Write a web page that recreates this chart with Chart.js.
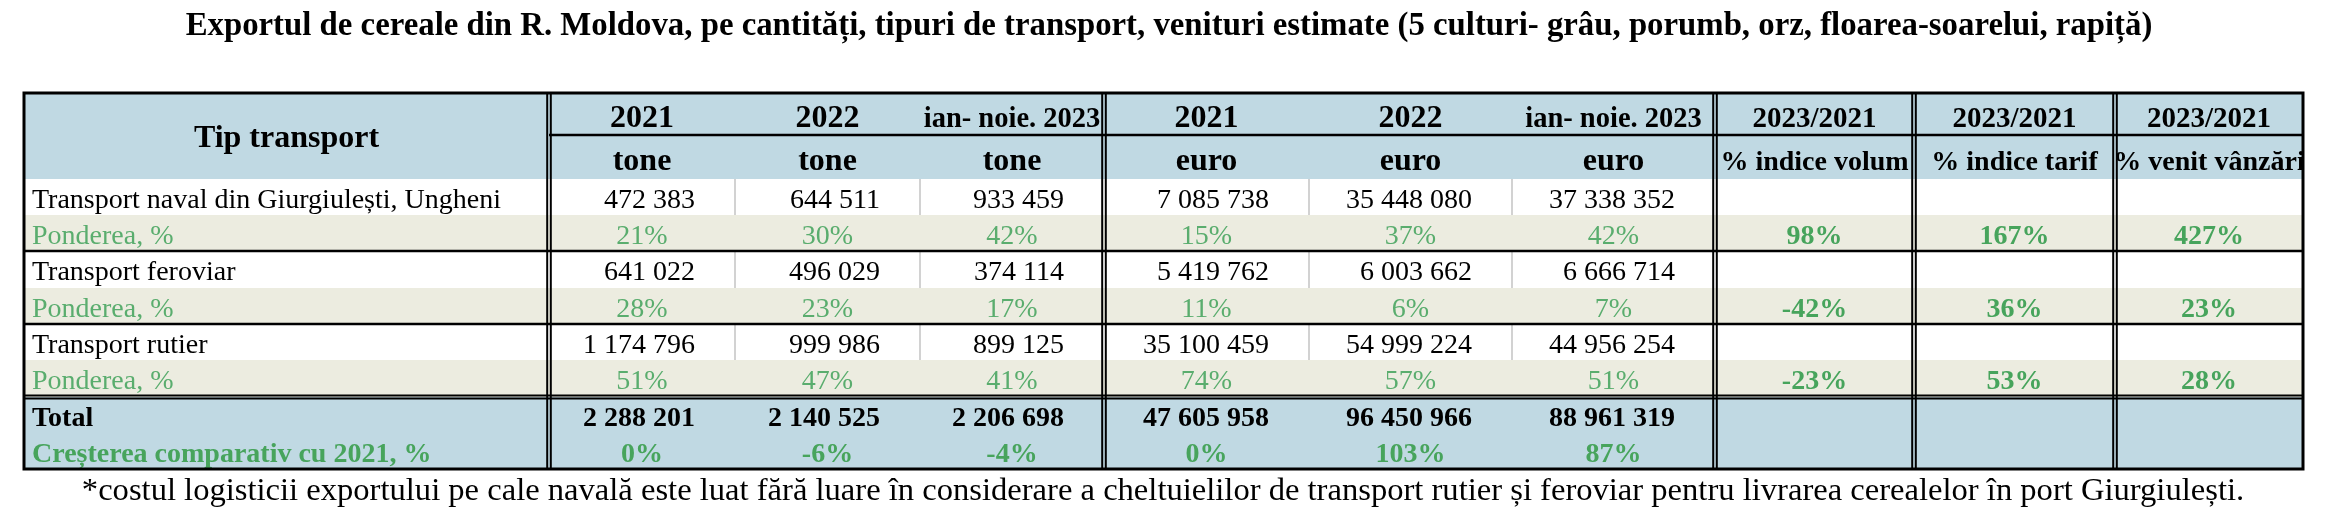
<!DOCTYPE html>
<html>
<head>
<meta charset="utf-8">
<script src="https://cdn.jsdelivr.net/npm/chart.js@4.4.0/dist/chart.umd.min.js"></script>
<style>
  html, body { margin: 0; padding: 0; background: #ffffff; overflow: hidden; }
  canvas { display: block; }
</style>
</head>
<body>
<canvas id="canvas1" width="2328" height="524"></canvas>
<script>
var title = 'Exportul de cereale din R. Moldova, pe cantități, tipuri de transport, venituri estimate (5 culturi- grâu, porumb, orz, floarea-soarelui, rapiță)';
var footnote = '*costul logisticii exportului pe cale navală este luat fără luare în considerare a cheltuielilor de transport rutier și feroviar pentru livrarea cerealelor în port Giurgiulești.';

var firstHeader = 'Tip transport';
var periods = ['2021', '2022', 'ian- noie. 2023'];
var units = ['tone', 'euro'];
var indexHeader = '2023/2021';
var indexLabels = ['% indice volum', '% indice tarif', '% venit vânzări'];

var transportTypes = ['Transport naval din Giurgiulești, Ungheni', 'Transport feroviar', 'Transport rutier'];
var shareLabel = 'Ponderea, %';

// tone, per transport type: 2021, 2022, ian-noie 2023
var tone = [
	[472383, 644511, 933459],
	[641022, 496029, 374114],
	[1174796, 999986, 899125]
];
var toneShare = [
	[21, 30, 42],
	[28, 23, 17],
	[51, 47, 41]
];
// euro
var euro = [
	[7085738, 35448080, 37338352],
	[5419762, 6003662, 6666714],
	[35100459, 54999224, 44956254]
];
var euroShare = [
	[15, 37, 42],
	[11, 6, 7],
	[74, 57, 51]
];
// volum, tarif, venit (2023/2021)
var indexValues = [
	[98, 167, 427],
	[-42, 36, 23],
	[-23, 53, 28]
];

var totalLabel = 'Total';
var growthLabel = 'Creșterea comparativ cu 2021, %';
var totalTone = [2288201, 2140525, 2206698];
var totalEuro = [47605958, 96450966, 88961319];
var growthTone = [0, -6, -4];
var growthEuro = [0, 103, 87];

// table layout (scale units)
var colEdges = [24, 549, 735, 920, 1104, 1309, 1512, 1715, 1914, 2115, 2303];
var rowEdges = [93, 135, 179, 215, 251, 288, 324, 360, 397, 433, 469];

var FONT = '"Liberation Serif", "Times New Roman", serif';
var BLUE = '#c0d9e3';
var GREY = '#ecece0';
var GREEN = '#5aad6e';
var GREEN_B = '#47a45c';

function fmt(n) {
	return String(n).replace(/\B(?=(\d{3})+(?!\d))/g, ' ');
}
function pct(n) {
	return n + '%';
}

var tablePlugin = {
	id: 'table',
	afterDraw: function(chart) {
		var ctx = chart.ctx;
		var xs = chart.scales.x, ys = chart.scales.y;
		var X = function(v) { return xs.getPixelForValue(v); };
		var Y = function(v) { return ys.getPixelForValue(v); };

		function fillCell(c0, c1, r0, r1, color) {
			ctx.fillStyle = color;
			ctx.fillRect(X(colEdges[c0]), Y(rowEdges[r0]), X(colEdges[c1]) - X(colEdges[c0]), Y(rowEdges[r1]) - Y(rowEdges[r0]));
		}
		function text(str, col, row, align, font, color, off) {
			var l = X(colEdges[col]), r = X(colEdges[col + 1]);
			var x = align === 'right' ? r - 40 : align === 'left' ? l + 8 : (l + r) / 2;
			ctx.save();
			ctx.beginPath();
			ctx.rect(l, Y(rowEdges[row]), r - l, Y(rowEdges[row + 1]) - Y(rowEdges[row]));
			ctx.clip();
			ctx.font = font;
			ctx.fillStyle = color;
			ctx.textAlign = align;
			ctx.textBaseline = 'alphabetic';
			ctx.fillText(str, x, Y(rowEdges[row]) + off);
			ctx.restore();
		}
		function hline(y, c0, c1, w, color) {
			ctx.strokeStyle = color;
			ctx.lineWidth = w;
			ctx.beginPath();
			ctx.moveTo(X(colEdges[c0]), Y(y));
			ctx.lineTo(X(colEdges[c1]), Y(y));
			ctx.stroke();
		}
		function vline(x, r0, r1, w, color) {
			ctx.strokeStyle = color;
			ctx.lineWidth = w;
			ctx.beginPath();
			ctx.moveTo(X(x), Y(rowEdges[r0]));
			ctx.lineTo(X(x), Y(rowEdges[r1]));
			ctx.stroke();
		}

		ctx.save();
		// backgrounds
		fillCell(0, 10, 0, 2, BLUE);
		for (var t = 0; t < 3; t++) {
			fillCell(0, 10, 2 + t * 2, 3 + t * 2, '#ffffff');
			fillCell(0, 10, 3 + t * 2, 4 + t * 2, GREY);
		}
		fillCell(0, 10, 8, 10, BLUE);

		// light separators inside groups, white rows only
		[2, 4, 6].forEach(function(r) {
			[2, 3, 5, 6].forEach(function(c) {
				ctx.strokeStyle = '#d2d2d2';
				ctx.lineWidth = 2;
				ctx.beginPath();
				ctx.moveTo(X(colEdges[c]), Y(rowEdges[r]));
				ctx.lineTo(X(colEdges[c]), Y(rowEdges[r + 1]));
				ctx.stroke();
			});
		});

		// title & footnote
		ctx.fillStyle = '#000000';
		ctx.textAlign = 'center';
		ctx.textBaseline = 'alphabetic';
		ctx.font = 'bold 32.8px ' + FONT;
		ctx.fillText(title, X(1169), Y(35));
		ctx.font = '32.6px ' + FONT;
		ctx.fillText(footnote, X(1163), Y(500));

		// header
		var hb = 'bold 32px ' + FONT, hs = 'bold 28.5px ' + FONT, hi = 'bold 29px ' + FONT;
		ctx.font = hb;
		ctx.fillStyle = '#000000';
		ctx.textAlign = 'center';
		ctx.fillText(firstHeader, (X(colEdges[0]) + X(colEdges[1])) / 2, Y(147));
		for (var g = 0; g < 2; g++) {
			for (var p = 0; p < 3; p++) {
				var col = 1 + g * 3 + p;
				text(periods[p], col, 0, 'center', p === 2 ? hs : hb, '#000000', 34);
				text(units[g], col, 1, 'center', hb, '#000000', 35);
			}
		}
		for (var k = 0; k < 3; k++) {
			text(indexHeader, 7 + k, 0, 'center', hi, '#000000', 34);
			text(indexLabels[k], 7 + k, 1, 'center', 'bold 28px ' + FONT, '#000000', 35);
		}

		// body
		var reg = '28px ' + FONT, bold = 'bold 28px ' + FONT;
		for (var i = 0; i < 3; i++) {
			var rv = 2 + i * 2, rs = 3 + i * 2;
			text(transportTypes[i], 0, rv, 'left', reg, '#000000', 29);
			text(shareLabel, 0, rs, 'left', reg, GREEN, 28.5);
			for (var j = 0; j < 3; j++) {
				text(fmt(tone[i][j]), 1 + j, rv, 'right', reg, '#000000', 29);
				text(pct(toneShare[i][j]), 1 + j, rs, 'center', reg, GREEN, 28.5);
				text(fmt(euro[i][j]), 4 + j, rv, 'right', reg, '#000000', 29);
				text(pct(euroShare[i][j]), 4 + j, rs, 'center', reg, GREEN, 28.5);
				text(pct(indexValues[i][j]), 7 + j, rs, 'center', bold, GREEN_B, 28.5);
			}
		}
		text(totalLabel, 0, 8, 'left', bold, '#000000', 29);
		text(growthLabel, 0, 9, 'left', bold, GREEN_B, 28.5);
		for (var m = 0; m < 3; m++) {
			text(fmt(totalTone[m]), 1 + m, 8, 'right', bold, '#000000', 29);
			text(fmt(totalEuro[m]), 4 + m, 8, 'right', bold, '#000000', 29);
			text(pct(growthTone[m]), 1 + m, 9, 'center', bold, GREEN_B, 28.5);
			text(pct(growthEuro[m]), 4 + m, 9, 'center', bold, GREEN_B, 28.5);
		}

		// black rules
		hline(rowEdges[1], 1, 10, 2.5, '#000000');
		[rowEdges[4], rowEdges[6]].forEach(function(y) { hline(y, 0, 10, 2.5, '#000000'); });
		hline(rowEdges[8] - 1.5, 0, 10, 2, '#000000');
		hline(rowEdges[8] + 1.5, 0, 10, 2, '#000000');
		[1, 4, 7, 8, 9].forEach(function(c) {
			vline(colEdges[c] - 1.8, 0, 10, 2, '#000000');
			vline(colEdges[c] + 1.8, 0, 10, 2, '#000000');
		});
		ctx.strokeStyle = '#000000';
		ctx.lineWidth = 3;
		ctx.strokeRect(X(colEdges[0]), Y(rowEdges[0]), X(colEdges[10]) - X(colEdges[0]), Y(rowEdges[10]) - Y(rowEdges[0]));
		ctx.restore();
	}
};

var myChart = {
	type: 'scatter',
	data: { datasets: [] },
	options: {
		responsive: false,
		animation: false,
		layout: { padding: 0 },
		plugins: { legend: { display: false }, tooltip: { enabled: false } },
		scales: {
			x: { type: 'linear', min: 0, max: 2328, display: false },
			y: { type: 'linear', min: 0, max: 524, reverse: true, display: false }
		}
	},
	plugins: [tablePlugin]
};

window.onload = function() {
	var ctx = document.getElementById('canvas1').getContext('2d');
	new Chart(ctx, myChart);
};
</script>
</body>
</html>
